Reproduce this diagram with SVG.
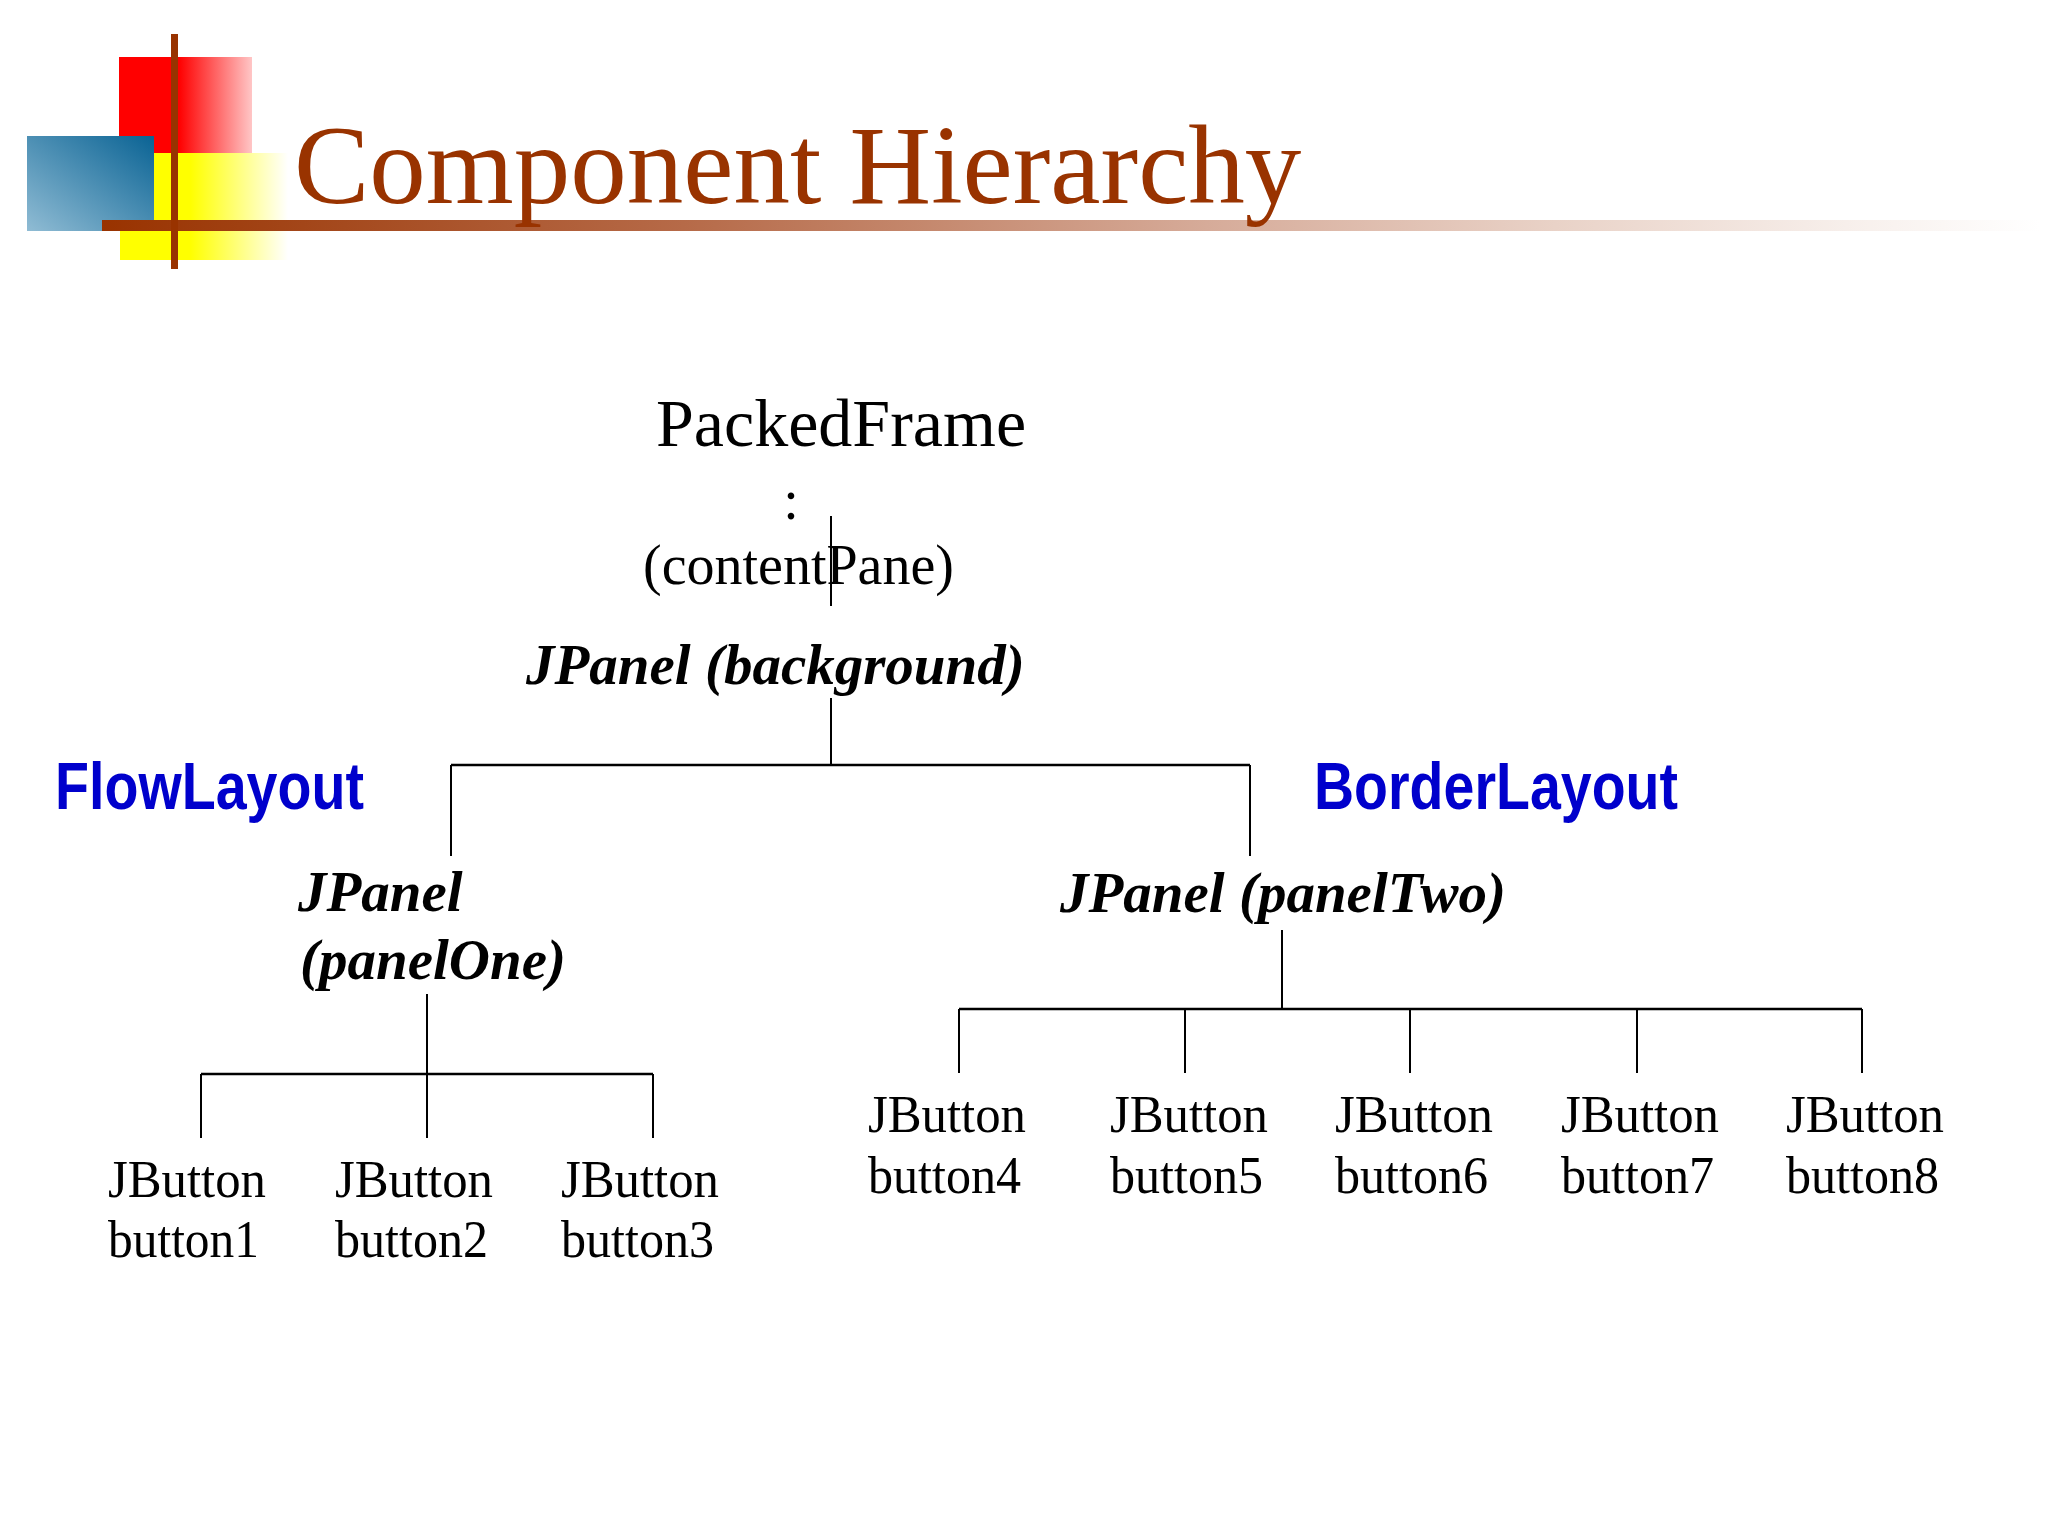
<svg xmlns="http://www.w3.org/2000/svg" width="2048" height="1536" viewBox="0 0 2048 1536">
  <defs>
    <linearGradient id="gRed" x1="0" y1="0" x2="1" y2="0">
      <stop offset="0" stop-color="#ff0000"/>
      <stop offset="0.45" stop-color="#ff0000"/>
      <stop offset="1" stop-color="#ffc6c6"/>
    </linearGradient>
    <linearGradient id="gYellow" x1="0" y1="0" x2="1" y2="0">
      <stop offset="0" stop-color="#ffff00"/>
      <stop offset="0.42" stop-color="#ffff00"/>
      <stop offset="1" stop-color="#ffffff"/>
    </linearGradient>
    <linearGradient id="gBlue" x1="1" y1="0" x2="0" y2="1">
      <stop offset="0" stop-color="#0a6394"/>
      <stop offset="1" stop-color="#90bcd4"/>
    </linearGradient>
    <linearGradient id="gBar" gradientUnits="userSpaceOnUse" x1="102" y1="0" x2="2040" y2="0">
      <stop offset="0" stop-color="#993300"/>
      <stop offset="0.3" stop-color="#b66a48"/>
      <stop offset="0.57" stop-color="#d6ab99"/>
      <stop offset="0.75" stop-color="#e9d2c7"/>
      <stop offset="0.9" stop-color="#f7efeb"/>
      <stop offset="1" stop-color="#ffffff"/>
    </linearGradient>
  </defs>
  <style>
    .title { font-family: "Liberation Serif", "Times New Roman", serif; font-size: 113px; fill: #993300; }
    .serif { font-family: "Liberation Serif", "Times New Roman", serif; fill: #000000; }
    .big { font-size: 68px; }
    .mid { font-size: 56px; }
    .panel { font-family: "Liberation Serif", "Times New Roman", serif; font-size: 57px; font-weight: bold; font-style: italic; fill: #000000; }
    .btn { font-family: "Liberation Serif", "Times New Roman", serif; font-size: 52px; fill: #000000; }
    .layout { font-family: "Liberation Sans", Arial, sans-serif; font-size: 66px; font-weight: bold; fill: #0000cc; }
    .conn line { stroke: #000000; stroke-width: 2; }
    .conn line.h { stroke-width: 2.5; }
  </style>
  <rect width="2048" height="1536" fill="#ffffff"/>

  <g id="logo">
    <rect x="119" y="57" width="133" height="96" fill="url(#gRed)"/>
    <rect x="120" y="153" width="168" height="107" fill="url(#gYellow)"/>
    <rect x="27" y="136" width="127" height="95" fill="url(#gBlue)"/>
    <rect x="102" y="220" width="1938" height="11" fill="url(#gBar)"/>
    <rect x="171" y="34" width="7" height="235" fill="#993300"/>
  </g>
  <text class="title" x="294" y="203">Component Hierarchy</text>

  <g class="conn" id="connectors">
    <line x1="831" y1="516" x2="831" y2="606"/>
    <line x1="831" y1="698" x2="831" y2="765"/>
    <line class="h" x1="451" y1="765" x2="1250" y2="765"/>
    <line x1="451" y1="765" x2="451" y2="856"/>
    <line x1="1250" y1="765" x2="1250" y2="856"/>
    <line x1="427" y1="994" x2="427" y2="1074"/>
    <line class="h" x1="201" y1="1074" x2="653" y2="1074"/>
    <line x1="201" y1="1074" x2="201" y2="1138"/>
    <line x1="427" y1="1074" x2="427" y2="1138"/>
    <line x1="653" y1="1074" x2="653" y2="1138"/>
    <line x1="1282" y1="930" x2="1282" y2="1009"/>
    <line class="h" x1="959" y1="1009" x2="1862" y2="1009"/>
    <line x1="959" y1="1009" x2="959" y2="1073"/>
    <line x1="1185" y1="1009" x2="1185" y2="1073"/>
    <line x1="1410" y1="1009" x2="1410" y2="1073"/>
    <line x1="1637" y1="1009" x2="1637" y2="1073"/>
    <line x1="1862" y1="1009" x2="1862" y2="1073"/>
  </g>

  <g id="packedFrame">
    <text class="serif big" x="656" y="446">PackedFrame</text>
    <text class="serif mid" x="791" y="519" text-anchor="middle">:</text>
    <text class="serif mid" x="643" y="584">(contentPane)</text>
  </g>

  <g id="background">
    <text class="panel" x="526" y="684">JPanel (background)</text>
  </g>

  <g id="flowLayoutLabel">
    <text class="layout" x="55" y="809" textLength="309" lengthAdjust="spacingAndGlyphs">FlowLayout</text>
  </g>
  <g id="borderLayoutLabel">
    <text class="layout" x="1314" y="809" textLength="364" lengthAdjust="spacingAndGlyphs">BorderLayout</text>
  </g>

  <g id="panelOne">
    <text class="panel" x="298" y="911">JPanel</text>
    <text class="panel" x="300" y="979">(panelOne)</text>
  </g>

  <g id="panelTwo">
    <text class="panel" x="1060" y="912">JPanel (panelTwo)</text>
  </g>

  <g id="button1">
    <text class="btn" x="108" y="1197" textLength="158" lengthAdjust="spacingAndGlyphs">JButton</text>
    <text class="btn" x="108" y="1257" textLength="151" lengthAdjust="spacingAndGlyphs">button1</text>
  </g>
  <g id="button2">
    <text class="btn" x="335" y="1197" textLength="158" lengthAdjust="spacingAndGlyphs">JButton</text>
    <text class="btn" x="335" y="1257" textLength="153" lengthAdjust="spacingAndGlyphs">button2</text>
  </g>
  <g id="button3">
    <text class="btn" x="561" y="1197" textLength="158" lengthAdjust="spacingAndGlyphs">JButton</text>
    <text class="btn" x="561" y="1257" textLength="153" lengthAdjust="spacingAndGlyphs">button3</text>
  </g>
  <g id="button4">
    <text class="btn" x="868" y="1132" textLength="158" lengthAdjust="spacingAndGlyphs">JButton</text>
    <text class="btn" x="868" y="1193" textLength="153" lengthAdjust="spacingAndGlyphs">button4</text>
  </g>
  <g id="button5">
    <text class="btn" x="1110" y="1132" textLength="158" lengthAdjust="spacingAndGlyphs">JButton</text>
    <text class="btn" x="1110" y="1193" textLength="153" lengthAdjust="spacingAndGlyphs">button5</text>
  </g>
  <g id="button6">
    <text class="btn" x="1335" y="1132" textLength="158" lengthAdjust="spacingAndGlyphs">JButton</text>
    <text class="btn" x="1335" y="1193" textLength="153" lengthAdjust="spacingAndGlyphs">button6</text>
  </g>
  <g id="button7">
    <text class="btn" x="1561" y="1132" textLength="158" lengthAdjust="spacingAndGlyphs">JButton</text>
    <text class="btn" x="1561" y="1193" textLength="153" lengthAdjust="spacingAndGlyphs">button7</text>
  </g>
  <g id="button8">
    <text class="btn" x="1786" y="1132" textLength="158" lengthAdjust="spacingAndGlyphs">JButton</text>
    <text class="btn" x="1786" y="1193" textLength="153" lengthAdjust="spacingAndGlyphs">button8</text>
  </g>
</svg>
